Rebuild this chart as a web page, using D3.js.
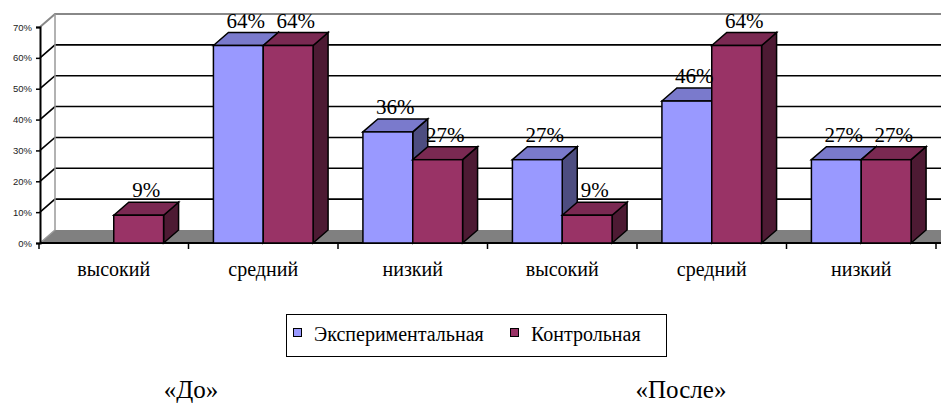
<!DOCTYPE html>
<html>
<head>
<meta charset="utf-8">
<script src="https://d3js.org/d3.v7.min.js"></script>
<style>
    body { margin: 0; }
    svg text.serif { font-family: Tinos, 'Liberation Serif', serif !important; }
</style>
</head>
<body>
<script>
        // data
        const categories = ["высокий", "средний", "низкий", "высокий", "средний", "низкий"];
        const seriesNames = ["Экспериментальная", "Контрольная"];
        const experimental = [0, 64, 36, 27, 46, 27];
        const control = [9, 64, 27, 9, 64, 27];
        const yTickValues = [0, 10, 20, 30, 40, 50, 60, 70];
        const periods = ["«До»", "«После»"];

        const width = 941;
        const height = 405;
        const serifFamily = "Tinos, 'Liberation Serif', serif";

        // 3d depth offset
        const dx = 15;
        const dy = 13;

        const colors = [
            {front: "#9999FF", top: "#7A7ACC", side: "#4D4D80"},
            {front: "#993366", top: "#7A2952", side: "#4D1A33"}
        ];

        const svg = d3.select("body").append("svg")
            .attr("width", width)
            .attr("height", height);

        const x = d3.scaleBand()
            .domain(d3.range(categories.length))
            .range([39, 936]);

        const xs = d3.scaleBand()
            .domain(d3.range(seriesNames.length))
            .range([0, x.bandwidth()])
            .paddingOuter(0.5);

        const y = d3.scaleLinear()
            .domain([0, 70])
            .range([243, 27]);

        const x0 = 40;
        const xRight = width + 20;

        // back wall and floor
        svg.append("path")
            .attr("d", `M${x0 + dx},${y(70) - dy}L${xRight},${y(70) - dy}L${xRight},${y(0) - dy}L${x0 + dx},${y(0) - dy}Z`)
            .attr("fill", "#fff");
        svg.append("path")
            .attr("d", `M${x0},${y(0)}L${x0 + dx},${y(0) - dy}L${xRight},${y(0) - dy}L${xRight},${y(0)}Z`)
            .attr("fill", "#808080");

        // gridlines on side wall + back wall
        svg.append("g")
            .selectAll("path")
            .data(yTickValues.filter(v => v > 0 && v < 70))
            .join("path")
            .attr("d", v => `M${x0},${y(v)}L${x0 + dx},${y(v) - dy}L${xRight},${y(v) - dy}`)
            .attr("fill", "none")
            .attr("stroke", "#000")
            .attr("stroke-width", 1.6);

        // wall border (gray)
        svg.append("path")
            .attr("d", `M${x0},${y(70)}L${x0 + dx},${y(70) - dy}L${xRight},${y(70) - dy}`)
            .attr("fill", "none")
            .attr("stroke", "#888")
            .attr("stroke-width", 2);
        svg.append("path")
            .attr("d", `M${x0 + dx},${y(70) - dy}L${x0 + dx},${y(0) - dy}L${x0},${y(0)}`)
            .attr("fill", "none")
            .attr("stroke", "#999")
            .attr("stroke-width", 1.5);

        // front x axis line
        svg.append("line")
            .attr("x1", x0).attr("x2", width)
            .attr("y1", y(0)).attr("y2", y(0))
            .attr("stroke", "#000")
            .attr("stroke-width", 2);

        // category ticks at band boundaries
        svg.append("g")
            .selectAll("line")
            .data(d3.range(categories.length + 1))
            .join("line")
            .attr("x1", i => x.range()[0] + i * x.step())
            .attr("x2", i => x.range()[0] + i * x.step())
            .attr("y1", y(0))
            .attr("y2", y(0) + 6)
            .attr("stroke", "#000")
            .attr("stroke-width", 1.5);

        // y axis
        const yAxis = svg.append("g")
            .attr("transform", `translate(${x0},0)`)
            .call(d3.axisLeft(y).tickValues(yTickValues).tickSize(4).tickPadding(4).tickFormat(d => d + "%"));
        yAxis.attr("font-family", null).attr("font-size", null);
        yAxis.select(".domain").attr("stroke", "#000").attr("stroke-width", 2);
        yAxis.selectAll(".tick line").attr("stroke", "#000").attr("stroke-width", 1.5);
        yAxis.selectAll(".tick text")
            .attr("font-size", 9.5)
            .style("font-family", "'Liberation Sans'")
            .attr("fill", "#222");

        // bars, drawn left to right so the right bar hides the left one's side
        const bars = [];
        categories.forEach((c, i) => {
            [experimental[i], control[i]].forEach((v, s) => bars.push({cat: i, s: s, v: v}));
        });
        const shown = bars.filter(d => d.v > 0);

        const barG = svg.append("g")
            .attr("stroke", "#000")
            .attr("stroke-width", 1.5);

        shown.forEach(d => {
            const bx = x(d.cat) + xs(d.s);
            const bw = xs.bandwidth();
            const top = y(d.v);
            const base = y(0);
            const col = colors[d.s];
            barG.append("path")
                .attr("d", `M${bx + bw},${base}L${bx + bw + dx},${base - dy}L${bx + bw + dx},${top - dy}L${bx + bw},${top}Z`)
                .attr("fill", col.side);
            barG.append("path")
                .attr("d", `M${bx},${top}L${bx + dx},${top - dy}L${bx + bw + dx},${top - dy}L${bx + bw},${top}Z`)
                .attr("fill", col.top);
            barG.append("rect")
                .attr("x", bx).attr("y", top)
                .attr("width", bw).attr("height", base - top)
                .attr("fill", col.front);
        });

        // value labels
        svg.selectAll("text.value")
            .data(shown)
            .join("text")
            .attr("class", "value serif")
            .attr("font-family", serifFamily)
            .attr("font-size", 21)
            .style("font-family", serifFamily, "important")
            .attr("text-anchor", "middle")
            .attr("x", d => x(d.cat) + xs(d.s) + xs.bandwidth() / 2 + dx / 2)
            .attr("y", d => y(d.v) - dy - 5)
            .text(d => d.v + "%");

        // category labels
        svg.selectAll("text.cat")
            .data(categories)
            .join("text")
            .attr("class", "cat serif")
            .attr("font-family", serifFamily)
            .attr("font-size", 20)
            .style("font-family", serifFamily, "important")
            .attr("text-anchor", "middle")
            .attr("x", (d, i) => x(i) + x.bandwidth() / 2)
            .attr("y", 276)
            .text(d => d);

        // legend
        svg.append("rect")
            .attr("x", 286.5).attr("y", 314.5)
            .attr("width", 380).attr("height", 42)
            .attr("fill", "#fff")
            .attr("stroke", "#000");
        const legendX = [293, 510];
        seriesNames.forEach((name, s) => {
            svg.append("rect")
                .attr("x", legendX[s] + 0.5).attr("y", 328.5)
                .attr("width", 8).attr("height", 8)
                .attr("fill", colors[s].front)
                .attr("stroke", "#000");
            svg.append("text")
                .attr("class", "serif")
                .attr("font-family", serifFamily)
                .attr("font-size", 20)
                .style("font-family", serifFamily, "important")
                .attr("x", legendX[s] + 21)
                .attr("y", 341)
                .text(name);
        });

        // period captions
        svg.selectAll("text.period")
            .data(periods)
            .join("text")
            .attr("class", "period serif")
            .attr("font-family", serifFamily)
            .attr("font-size", 25)
            .style("font-family", serifFamily, "important")
            .attr("text-anchor", "middle")
            .attr("x", (d, i) => i === 0 ? 191 : 681)
            .attr("y", 398)
            .text(d => d);
</script>
</body>
</html>
